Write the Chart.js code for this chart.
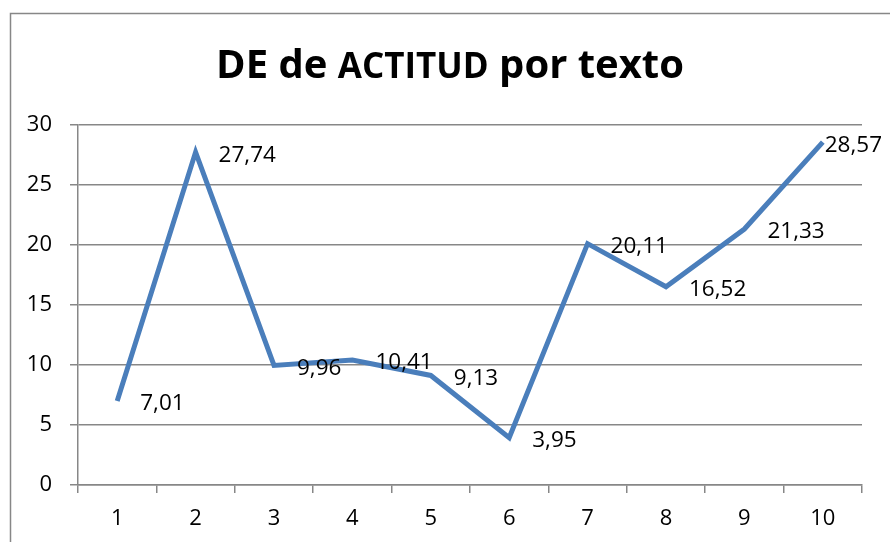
<!DOCTYPE html>
<html>
<head>
<meta charset="utf-8">
<script src="https://cdn.jsdelivr.net/npm/chart.js@4.4.1/dist/chart.umd.min.js"></script>
<style>
  html, body { margin: 0; padding: 0; background: #fff; }
  #wrap { width: 890px; height: 542px; position: relative; }
</style>
</head>
<body>
<div id="wrap"><canvas id="c" width="890" height="542"></canvas></div>
<script>
const categories = ['1', '2', '3', '4', '5', '6', '7', '8', '9', '10'];
const values = [7.01, 27.74, 9.96, 10.41, 9.13, 3.95, 20.11, 16.52, 21.33, 28.57];
const valueLabels = ['7,01', '27,74', '9,96', '10,41', '9,13', '3,95', '20,11', '16,52', '21,33', '28,57'];
const titleParts = [['DE de ', 40], ['ACTITUD', 35], [' por texto', 40]];

const FONT = '"Open Sans", "Liberation Sans", sans-serif';
const GRID = '#878787';

const framePlugin = {
  id: 'frame',
  beforeDraw(chart) {
    const ctx = chart.ctx;
    ctx.save();
    ctx.fillStyle = '#fff';
    ctx.fillRect(0, 0, chart.width, chart.height);
    ctx.strokeStyle = GRID;
    ctx.lineWidth = 1.5;
    ctx.strokeRect(10.5, 13.5, 1000, 1000);
    ctx.restore();
  },
  afterDraw(chart) {
    const ctx = chart.ctx;
    ctx.save();
    ctx.fillStyle = '#000';
    ctx.textBaseline = 'alphabetic';
    let total = 0;
    titleParts.forEach(([t, s]) => {
      ctx.font = 'bold ' + s + 'px ' + FONT;
      total += ctx.measureText(t).width;
    });
    let x = 450 - total / 2;
    titleParts.forEach(([t, s]) => {
      ctx.font = 'bold ' + s + 'px ' + FONT;
      ctx.fillText(t, x, 78);
      x += ctx.measureText(t).width;
    });
    ctx.restore();
  }
};

const labelPlugin = {
  id: 'valueLabels',
  afterDatasetsDraw(chart) {
    const ctx = chart.ctx;
    const meta = chart.getDatasetMeta(0);
    ctx.save();
    ctx.font = '22.5px ' + FONT;
    ctx.fillStyle = '#000';
    ctx.textBaseline = 'middle';
    meta.data.forEach((pt, i) => {
      const txt = valueLabels[i];
      const w = ctx.measureText(txt).width;
      let x = pt.x + 23;
      if (x + w > chart.width - 8) x = chart.width - 8 - w;
      ctx.fillText(txt, x, pt.y + 3);
    });
    ctx.restore();
  }
};

new Chart(document.getElementById('c'), {
  type: 'line',
  data: {
    labels: categories,
    datasets: [{
      data: values,
      borderColor: '#4a7ebb',
      borderWidth: 5,
      pointRadius: 0,
      tension: 0,
      fill: false,
      borderJoinStyle: 'miter'
    }]
  },
  options: {
    responsive: false,
    animation: false,
    devicePixelRatio: 1,
    layout: { padding: { top: 125, right: 28, left: 0, bottom: 0 } },
    plugins: { legend: { display: false }, title: { display: false }, tooltip: { enabled: false } },
    scales: {
      x: {
        offset: true,
        grid: { offset: true, drawOnChartArea: false, drawTicks: true, tickLength: 8, color: GRID, lineWidth: 1.5 },
        border: { display: true, color: GRID, width: 1.5 },
        ticks: { color: '#000', font: { family: FONT, size: 22 }, padding: 13, maxRotation: 0 },
        afterFit(s) { s.height = 57; }
      },
      y: {
        min: 0, max: 30,
        ticks: { stepSize: 5, color: '#000', font: { family: FONT, size: 22 }, padding: 18 },
        grid: { color: GRID, lineWidth: 1.5, tickLength: 8 },
        border: { display: true, color: GRID, width: 1.5 },
        afterFit(s) { s.width = 78; }
      }
    }
  },
  plugins: [framePlugin, labelPlugin]
});
</script>
</body>
</html>
